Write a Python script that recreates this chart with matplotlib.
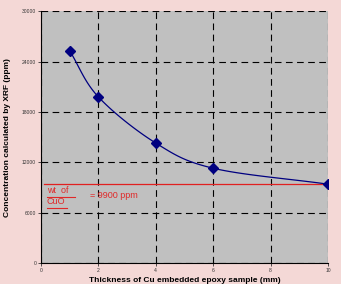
import matplotlib
matplotlib.use("Agg")
import matplotlib.pyplot as plt
import numpy as np

thickness = [1, 2, 4, 6, 10]
concentration = [25300, 19800, 14300, 11300, 9400]
ref_level = 9400
y_ticks = [0, 6000, 12000, 18000, 24000, 30000]
x_ticks = [0, 2, 4, 6, 8, 10]


def smooth(x, y, n=30):
    # Catmull-Rom style smoothing like Excel's smoothed line
    x = np.asarray(x, float)
    y = np.asarray(y, float)
    px = np.concatenate([[2 * x[0] - x[1]], x, [2 * x[-1] - x[-2]]])
    py = np.concatenate([[2 * y[0] - y[1]], y, [2 * y[-1] - y[-2]]])
    xs, ys = [], []
    t = np.linspace(0, 1, n)
    for i in range(1, len(px) - 2):
        for p, out in ((px, xs), (py, ys)):
            p0, p1, p2, p3 = p[i - 1], p[i], p[i + 1], p[i + 2]
            out.extend(0.5 * (2 * p1 + (-p0 + p2) * t
                              + (2 * p0 - 5 * p1 + 4 * p2 - p3) * t ** 2
                              + (-p0 + 3 * p1 - 3 * p2 + p3) * t ** 3))
    return xs, ys


plt.rcParams["font.family"] = ["Liberation Sans", "DejaVu Sans"]

fig = plt.figure(figsize=(3.41, 2.84), dpi=100, facecolor="#F4D8D6")
ax = fig.add_axes([0.1202, 0.0739, 0.8417, 0.886])
ax.set_facecolor("#C0C0C0")

ax.set_xlim(0, 10)
ax.set_ylim(0, 30000)
ax.set_xticks(x_ticks)
ax.set_yticks(y_ticks)
ax.tick_params(labelsize=3.6, length=2, width=0.6, pad=1.5, colors="#333333")
ax.grid(True, color="black", linestyle=(0, (6, 4)), linewidth=0.8)
for side in ("top", "right"):
    ax.spines[side].set_visible(False)
for side in ("left", "bottom"):
    ax.spines[side].set_linewidth(0.8)

ax.plot([0.1, 10], [ref_level, ref_level], color="#E02020", linewidth=0.9, zorder=3)

sx, sy = smooth(thickness, concentration)
ax.plot(sx, sy, color="#000080", linewidth=0.9, zorder=4)
ax.plot(thickness, concentration, linestyle="none", marker="D", markersize=5,
        color="#000080", zorder=5)

red = "#E02828"
ax.text(0.2, 8400, "wt  of", color=red, fontsize=6.5, ha="left", va="baseline")
ax.plot([0.2, 1.2], [7900, 7900], color=red, linewidth=0.8)
ax.text(0.2, 7050, "CuO", color=red, fontsize=6.5, ha="left", va="baseline")
ax.plot([0.2, 0.9], [6550, 6550], color=red, linewidth=0.8)
ax.text(1.7, 8000, "= 9900 ppm", color=red, fontsize=6.5, ha="left", va="center")

ax.set_xlabel("Thickness of Cu embedded epoxy sample (mm)", fontsize=6,
              fontweight="bold", labelpad=3)
ax.set_ylabel("Concentration calculated by XRF (ppm)", fontsize=6,
              fontweight="bold", labelpad=8)

fig.savefig("out.png", dpi=100, facecolor=fig.get_facecolor())
